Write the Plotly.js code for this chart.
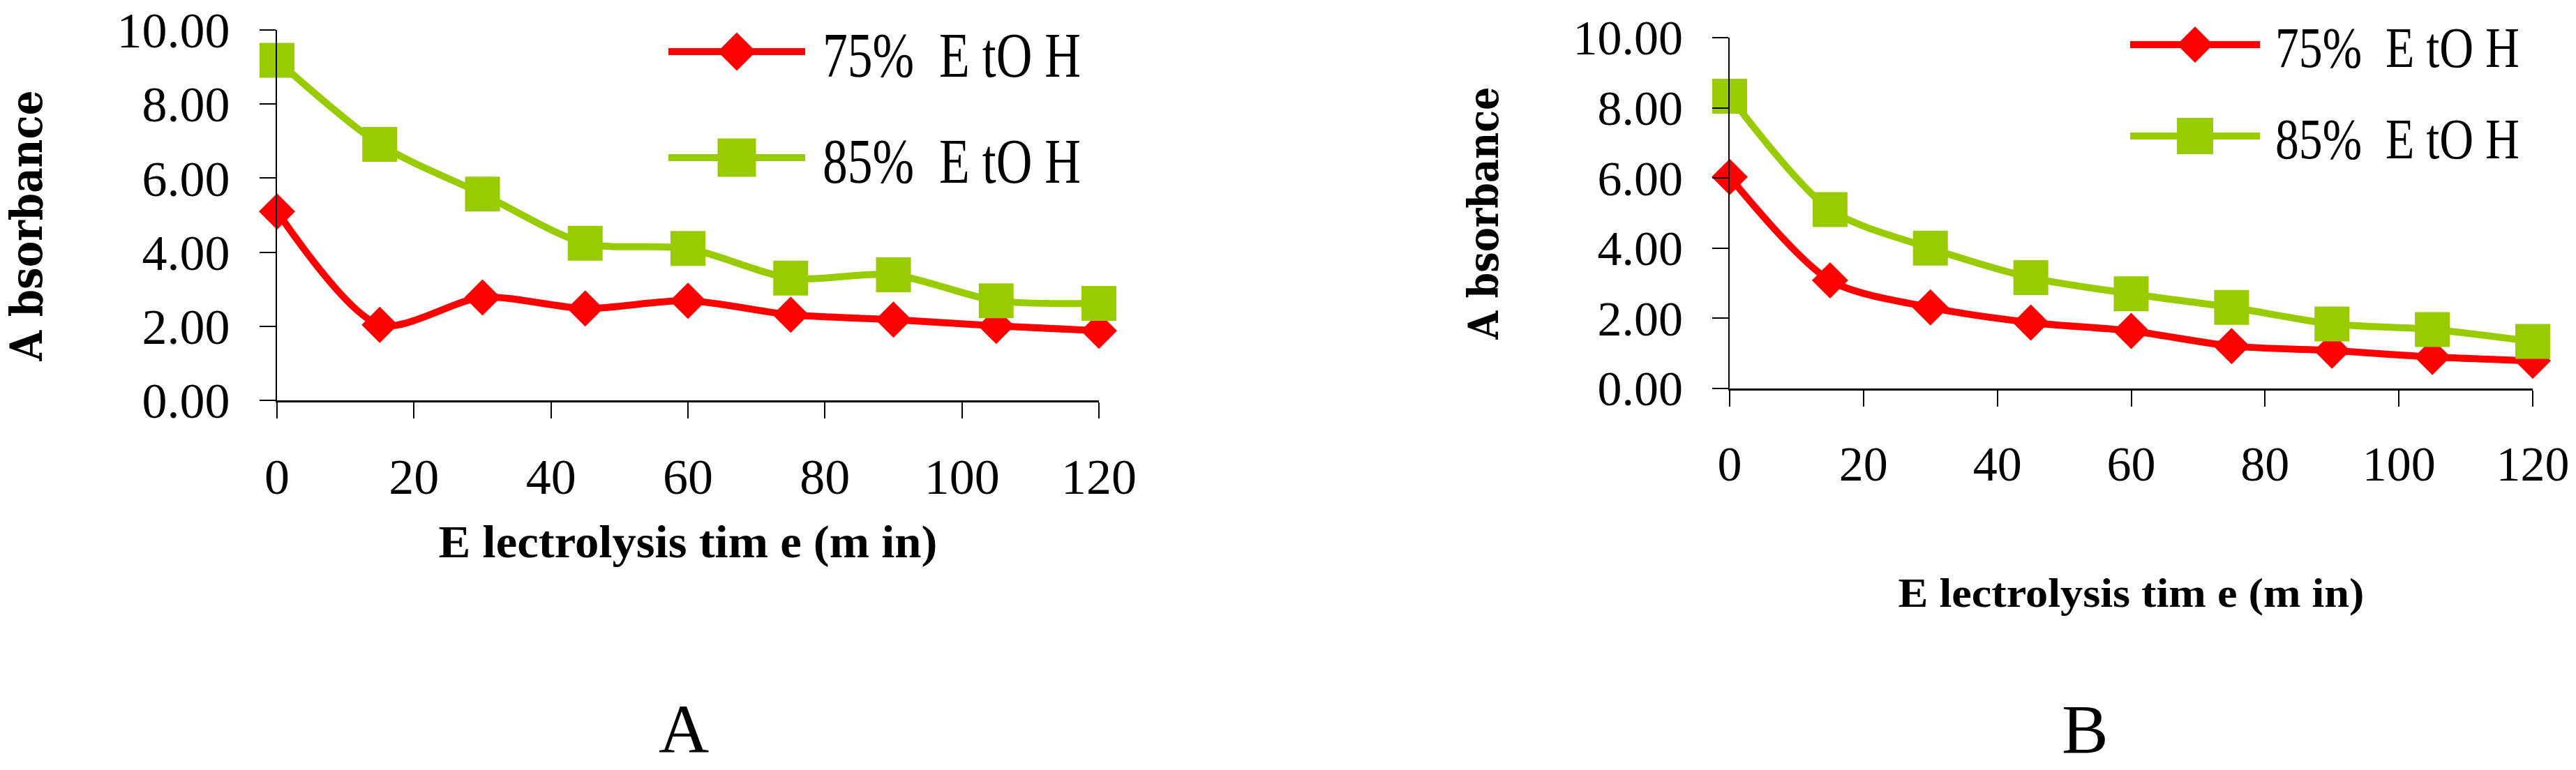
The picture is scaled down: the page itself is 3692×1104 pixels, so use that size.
<!DOCTYPE html>
<html>
<head>
<meta charset="utf-8">
<script src="https://cdn.plot.ly/plotly-3.0.1.min.js"></script>
<style>html,body{margin:0;padding:0;background:#fff;overflow:hidden}</style>
</head>
<body>
<div id="chart" style="width:3692px;height:1104px"></div>
<script>
// ---- data ----
const timeMin = [0, 15, 30, 45, 60, 75, 90, 105, 120];
const absA75 = [5.10, 2.04, 2.78, 2.48, 2.69, 2.31, 2.18, 2.01, 1.88];
const absA85 = [9.18, 6.91, 5.57, 4.24, 4.10, 3.30, 3.39, 2.69, 2.62];
const absB75 = [6.03, 3.08, 2.31, 1.88, 1.64, 1.21, 1.08, 0.90, 0.79];
const absB85 = [8.33, 5.10, 4.00, 3.16, 2.70, 2.31, 1.84, 1.68, 1.34];
const seriesNames = ['75%\u00a0\u00a0E tO H', '85%\u00a0\u00a0E tO H'];
const yTickVals = [0, 2, 4, 6, 8, 10];
const yTickText = ['0.00', '2.00', '4.00', '6.00', '8.00', '10.00'];
const xTickVals = [0, 20, 40, 60, 80, 100, 120];
const yTitleText = 'A bsorbance';
const xTitleText = 'E lectrolysis tim e (m in)';
const panelLabels = ['A', 'B'];

// ---- styles ----
const SERIF = 'Liberation Serif, Times New Roman, serif';
const colors = ['#FF0000', '#99CC00'];
const symbols = ['diamond', 'square'];
const msize = [40, 50];

function trace(y, i, xa, ya, leg) {
  return {
    type: 'scatter', mode: 'lines+markers', x: timeMin, y: y,
    xaxis: xa, yaxis: ya, name: seriesNames[i], legend: leg, legendgroup: leg + '_' + i,
    cliponaxis: false,
    line: {color: colors[i], width: 10, shape: 'spline', smoothing: 0.8},
    marker: {symbol: symbols[i], size: msize[i], color: colors[i], line: {width: 0}}
  };
}

const data = [
  trace(absA75, 0, 'x', 'y', 'legend'),
  trace(absA85, 1, 'x', 'y', 'legend'),
  trace(absB75, 0, 'x2', 'y2', 'legend2'),
  trace(absB85, 1, 'x2', 'y2', 'legend2')
];

function xax(domain, size, titleSize, standoff) {
  return {
    domain: domain, range: [0, 120], tickvals: xTickVals, ticktext: xTickVals.map(String),
    ticks: 'outside', ticklen: 23, tickwidth: 2, tickcolor: '#000',
    showline: true, linecolor: '#000', linewidth: 3, showgrid: false, zeroline: false,
    tickfont: {family: SERIF, size: size, color: '#000'}, ticklabelstandoff: 22,
    title: {text: xTitleText, standoff: standoff, font: {family: SERIF, size: titleSize, color: '#000', weight: 'bold'}},
    fixedrange: true
  };
}
function yax(domain, anchor, size, titleSize, standoff) {
  return {
    domain: domain, anchor: anchor, range: [0, 10], tickvals: yTickVals, ticktext: yTickText,
    ticks: 'outside', ticklen: 23, tickwidth: 2, tickcolor: '#000',
    showline: true, linecolor: '#000', linewidth: 2, showgrid: false, zeroline: false,
    tickfont: {family: SERIF, size: size, color: '#000'}, ticklabelstandoff: 28,
    title: {text: yTitleText, standoff: standoff, font: {family: 'DejaVu Serif, serif', size: titleSize, color: '#000', weight: 'bold'}},
    fixedrange: true
  };
}

const layout = {
  width: 3692, height: 1104,
  margin: {l: 0, r: 0, t: 0, b: 0},
  paper_bgcolor: '#fff', plot_bgcolor: 'rgba(0,0,0,0)',
  showlegend: true,
  xaxis: Object.assign(xax([0.10753, 0.42660], 72, 66, 30), {anchor: 'y'}),
  yaxis: yax([0.48007, 0.96105], 'x', 72, 64, 100),
  xaxis2: Object.assign(xax([0.67145, 0.98321], 70, 60, 125), {anchor: 'y2'}),
  yaxis2: yax([0.49547, 0.95109], 'x2', 70, 60, 87),
  legend: {x: 0.26, y: 0.995, xanchor: 'left', yanchor: 'top', bgcolor: 'rgba(0,0,0,0)',
    borderwidth: 0, font: {family: SERIF, size: 92, color: '#000'}, itemwidth: 215,
    traceorder: 'grouped', tracegroupgap: 28, itemclick: false, itemdoubleclick: false},
  legend2: {x: 0.80, y: 0.995, xanchor: 'left', yanchor: 'top', bgcolor: 'rgba(0,0,0,0)',
    borderwidth: 0, font: {family: SERIF, size: 82, color: '#000'}, itemwidth: 215,
    traceorder: 'grouped', tracegroupgap: 14, itemclick: false, itemdoubleclick: false},
  annotations: [
    {text: panelLabels[0], xref: 'paper', yref: 'paper', x: 0.2654, y: 0.001, xanchor: 'center', yanchor: 'bottom',
     showarrow: false, font: {family: SERIF, size: 100, color: '#000'}},
    {text: panelLabels[1], xref: 'paper', yref: 'paper', x: 0.8095, y: 0.001, xanchor: 'center', yanchor: 'bottom',
     showarrow: false, font: {family: SERIF, size: 100, color: '#000'}}
  ]
};

function fitText(el, len) {
  if (!el) return;
  if (el.getAttribute('textLength') !== String(len)) el.setAttribute('textLength', len);
  if (el.getAttribute('lengthAdjust') !== 'spacingAndGlyphs') el.setAttribute('lengthAdjust', 'spacingAndGlyphs');
}

function parseTranslate(el) {
  const tr = el.getAttribute('transform') || '';
  const m = /translate\(\s*([-\d.eE]+)(?:[\s,]+([-\d.eE]+))?/.exec(tr);
  return m ? [parseFloat(m[1]), m[2] !== undefined ? parseFloat(m[2]) : 0] : [0, 0];
}

// lay out one legend: text start x, row centre ys, line length, gap, marker heights, text length
function placeLegend(groups, textX, rowYs, lineLen, gap, markerH, textLen) {
  groups.forEach(function (g, i) {
    if (i >= rowYs.length) return;
    const txt = g.querySelector('text');
    if (!txt) return;
    fitText(txt, textLen);
    const tx = parseFloat(txt.getAttribute('x')) || 0;
    const x0 = tx - gap - lineLen;
    g.querySelectorAll('g.legendlines path').forEach(function (p) {
      p.setAttribute('d', 'M' + x0 + ',0h' + lineLen);
    });
    const cx = x0 + lineLen / 2;
    g.querySelectorAll('path.scatterpts').forEach(function (p) {
      p.removeAttribute('transform');
      const bb = p.getBBox();
      const s = bb.height > 0 ? markerH[i] / bb.height : 1;
      p.setAttribute('transform', 'translate(' + cx + ',0) scale(' + s + ')');
    });
    const m = g.getCTM();
    if (!m) return;
    const t = parseTranslate(g);
    const nx = t[0] + (textX - (m.e + tx));
    const ny = t[1] + (rowYs[i] - m.f);
    if (Math.abs(nx - t[0]) > 0.01 || Math.abs(ny - t[1]) > 0.01) {
      g.setAttribute('transform', 'translate(' + nx + ',' + ny + ')');
    }
  });
}

function itemsOf(sel) {
  const leg = document.querySelector(sel);
  if (!leg) return [];
  return Array.from(leg.querySelectorAll('g.traces')).filter(function (g) {
    return g.querySelector('text');
  }).map(function (g) { const m = g.getCTM(); return {g: g, y: m ? m.f : 0}; })
    .sort(function (a, b) { return a.y - b.y; }).map(function (d) { return d.g; });
}

function post() {
  try {
    document.querySelectorAll('g.scrollbox').forEach(function (s) {
      if (s.hasAttribute('clip-path')) s.removeAttribute('clip-path');
    });
    placeLegend(itemsOf('g.legend'), 1179, [74, 226], 196, 25, [55, 55], 370);
    placeLegend(itemsOf('g.legend2'), 3261, [64, 195], 186, 22, [52, 52], 350);

    fitText(document.querySelector('.g-ytitle text'), 388);
    fitText(document.querySelector('.g-y2title text'), 362);
    fitText(document.querySelector('.g-xtitle text'), 715);
    fitText(document.querySelector('.g-x2title text'), 668);
    const yt = document.querySelector('g.g-ytitle text');
    if (yt) {
      const tr = yt.getAttribute('transform') || '';
      if (tr.indexOf('translate(0,15)') !== 0) yt.setAttribute('transform', 'translate(0,15) ' + tr);
    }
  } catch (e) { /* keep drawing */ }
}

const gd = document.getElementById('chart');
const obsOpts = {childList: true, subtree: true, attributes: true, characterData: true};
const observer = new MutationObserver(function () {
  observer.disconnect();
  post();
  observer.observe(gd, obsOpts);
});
observer.observe(gd, obsOpts);

Plotly.newPlot(gd, data, layout, {staticPlot: true, displayModeBar: false}).then(function () {
  observer.disconnect();
  post();
  observer.observe(gd, obsOpts);
  setTimeout(post, 50);
  setTimeout(post, 400);
});
</script>
</body>
</html>
